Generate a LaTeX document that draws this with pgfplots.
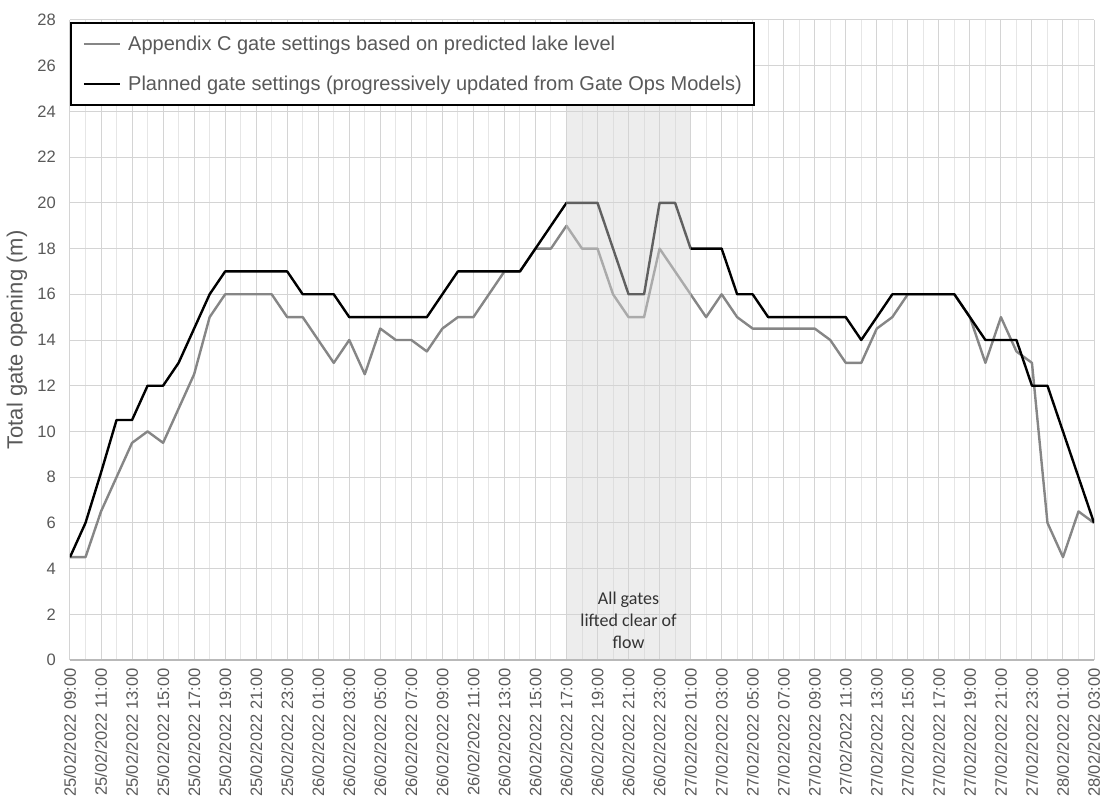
\documentclass[border=0pt]{standalone}
\usepackage{pgfplots}
\pgfplotsset{compat=1.18}
\usepackage{pgfplotstable}
\usepackage{fontspec}
\setmainfont{Liberation Sans}
\newfontfamily\calibri{Carlito}
\definecolor{txt}{HTML}{595959}
\definecolor{sgray}{HTML}{868686}
\definecolor{gmaj}{HTML}{D4D4D4}
\definecolor{gmin}{HTML}{E6E6E6}
\definecolor{shadecol}{HTML}{D6D6D6}

\pgfplotstableread{
h appx plan
0 4.5 4.5
1 4.5 6
2 6.5 8.2
3 8 10.5
4 9.5 10.5
5 10 12
6 9.5 12
7 11 13
8 12.5 14.5
9 15 16
10 16 17
11 16 17
12 16 17
13 16 17
14 15 17
15 15 16
16 14 16
17 13 16
18 14 15
19 12.5 15
20 14.5 15
21 14 15
22 14 15
23 13.5 15
24 14.5 16
25 15 17
26 15 17
27 16 17
28 17 17
29 17 17
30 18 18
31 18 19
32 19 20
33 18 20
34 18 20
35 16 18
36 15 16
37 15 16
38 18 20
39 17 20
40 16 18
41 15 18
42 16 18
43 15 16
44 14.5 16
45 14.5 15
46 14.5 15
47 14.5 15
48 14.5 15
49 14 15
50 13 15
51 13 14
52 14.5 15
53 15 16
54 16 16
55 16 16
56 16 16
57 16 16
58 15 15
59 13 14
60 15 14
61 13.5 14
62 13 12
63 6 12
64 4.5 10
65 6.5 8
66 6 6
}\gatedata

\begin{document}
\begin{tikzpicture}
\begin{axis}[
  scale only axis, width=768pt, height=480pt,
  xmin=0, xmax=66, ymin=0, ymax=28,
  xtick={0,2,...,66}, minor xtick={1,3,...,65},
  ytick={0,2,...,28},
  xticklabels={25/02/2022 09:00,25/02/2022 11:00,25/02/2022 13:00,25/02/2022 15:00,25/02/2022 17:00,25/02/2022 19:00,25/02/2022 21:00,25/02/2022 23:00,
    26/02/2022 01:00,26/02/2022 03:00,26/02/2022 05:00,26/02/2022 07:00,26/02/2022 09:00,26/02/2022 11:00,26/02/2022 13:00,26/02/2022 15:00,26/02/2022 17:00,26/02/2022 19:00,26/02/2022 21:00,26/02/2022 23:00,
    27/02/2022 01:00,27/02/2022 03:00,27/02/2022 05:00,27/02/2022 07:00,27/02/2022 09:00,27/02/2022 11:00,27/02/2022 13:00,27/02/2022 15:00,27/02/2022 17:00,27/02/2022 19:00,27/02/2022 21:00,27/02/2022 23:00,
    28/02/2022 01:00,28/02/2022 03:00},
  grid=both,
  major grid style={draw=gmaj, line width=0.75pt},
  minor grid style={draw=gmin, line width=0.75pt},
  axis line style={draw=none},
  major tick length=0pt, minor tick length=0pt,
  tick style={draw=none},
  /pgf/number format/assume math mode=true,
  tick label style={font=\fontsize{12.4}{14}\selectfont, text=txt},
  xticklabel style={rotate=90, anchor=east, inner sep=0pt},
  xticklabel shift=6pt,
  yticklabel style={anchor=east, inner sep=0pt},
  yticklabel shift=10.5pt,
  ylabel={Total gate opening (m)},
  ylabel style={font=\fontsize{16.5}{19}\selectfont, text=txt, inner sep=0pt},
  ylabel shift=7.5pt,
  legend cell align=left,
  legend style={at={(rel axis cs:0,1)}, anchor=north west, yshift=-1.5pt,
    draw=black, line width=1.2pt, fill=white,
    font=\fontsize{15}{18}\selectfont, text=txt,
    inner xsep=9pt, inner ysep=10.15pt, row sep=18.8pt,
    nodes={inner sep=0pt, text height=11pt, text depth=0.2pt},
    /tikz/every odd column/.append style={column sep=5.25pt}},
  legend image code/.code={\path (0pt,0pt) -- (27pt,0pt); \draw[#1] (3.75pt,0pt) -- (27pt,0pt);},
]
\addplot[sgray, line width=1.8pt, line join=round] table[x=h, y=appx] {\gatedata};
\addlegendentry{Appendix C gate settings based on predicted lake level}
\addplot[black, line width=1.8pt, line join=round] table[x=h, y=plan] {\gatedata};
\addlegendentry{Planned gate settings (progressively updated from Gate Ops Models)}
\fill[fill=shadecol, fill opacity=0.45] (axis cs:32,0) rectangle (axis cs:40,28);
\draw[color=gray!55, line width=1pt] (rel axis cs:0,0) -- (rel axis cs:1,0);
\node[font=\calibri\fontsize{13.5}{16.5}\selectfont, align=center, text=black!80] at (axis cs:36,1.75) {All gates\\lifted clear of\\flow};
\coordinate (bl) at (rel axis cs:0,0);
\coordinate (tr) at (rel axis cs:1,1);
\end{axis}
\pgfresetboundingbox
\useasboundingbox ([xshift=-52.5pt,yshift=-105pt]bl) rectangle ([xshift=8.25pt,yshift=15pt]tr);
\end{tikzpicture}
\end{document}
